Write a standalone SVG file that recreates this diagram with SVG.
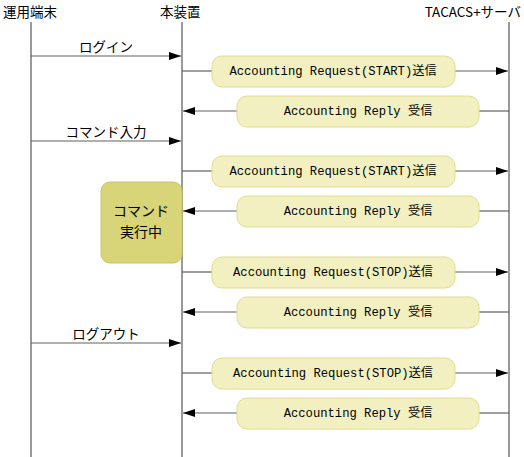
<svg xmlns="http://www.w3.org/2000/svg" width="524" height="457" viewBox="0 0 524 457">
<style>
.hdr{font-family:"Noto Sans CJK JP","Liberation Sans",sans-serif;font-size:13.5px;fill:#000}
.lbl{font-family:"Noto Sans CJK JP","Liberation Sans",sans-serif;font-size:13.5px;fill:#000;text-anchor:middle}
.cl{font-family:"Noto Sans CJK JP","Liberation Sans",sans-serif;font-size:14px;fill:#000;text-anchor:middle}
.msg{font-family:"Liberation Mono","Noto Sans CJK JP",monospace;font-size:12.2px;fill:#000;text-anchor:middle;dominant-baseline:central}
.life{stroke:#808080;stroke-width:1.6;fill:none}
.ln{stroke:#606060;stroke-width:1.2;fill:none}
.box{fill:#f2f0c0;stroke:#e0dc90;stroke-width:1}
.cmd{fill:#d8d478;stroke:#c8c460;stroke-width:1}
</style>
<defs>
<marker id="ah" markerWidth="12" markerHeight="8" refX="12" refY="4" orient="auto" markerUnits="userSpaceOnUse">
<path d="M0,0 L12,4 L0,8 Z" fill="#000"/>
</marker>
</defs>
<g id="headers">
<text class="hdr" x="3" y="17">運用端末</text>
<text class="hdr" x="160" y="17">本装置</text>
<text class="hdr" x="521" y="17" text-anchor="end">TACACS+サーバ</text>
</g>
<g id="lifelines">
<line class="life" x1="31" y1="22" x2="31" y2="457"/>
<line class="life" x1="182" y1="22" x2="182" y2="457"/>
<line class="life" x1="509" y1="22" x2="509" y2="457"/>
</g>
<g id="connectors">
<line class="ln" x1="31" y1="56" x2="181" y2="56" marker-end="url(#ah)"/>
<line class="ln" x1="31" y1="141" x2="181" y2="141" marker-end="url(#ah)"/>
<line class="ln" x1="31" y1="343" x2="181" y2="343" marker-end="url(#ah)"/>
<line class="ln" x1="182" y1="71" x2="212" y2="71"/>
<line class="ln" x1="455" y1="71" x2="508" y2="71" marker-end="url(#ah)"/>
<line class="ln" x1="509" y1="111" x2="479" y2="111"/>
<line class="ln" x1="237" y1="111" x2="183" y2="111" marker-end="url(#ah)"/>
<line class="ln" x1="182" y1="171" x2="212" y2="171"/>
<line class="ln" x1="455" y1="171" x2="508" y2="171" marker-end="url(#ah)"/>
<line class="ln" x1="509" y1="211" x2="479" y2="211"/>
<line class="ln" x1="237" y1="211" x2="183" y2="211" marker-end="url(#ah)"/>
<line class="ln" x1="182" y1="272" x2="212" y2="272"/>
<line class="ln" x1="455" y1="272" x2="508" y2="272" marker-end="url(#ah)"/>
<line class="ln" x1="509" y1="312" x2="479" y2="312"/>
<line class="ln" x1="237" y1="312" x2="183" y2="312" marker-end="url(#ah)"/>
<line class="ln" x1="182" y1="373" x2="212" y2="373"/>
<line class="ln" x1="455" y1="373" x2="508" y2="373" marker-end="url(#ah)"/>
<line class="ln" x1="509" y1="413" x2="479" y2="413"/>
<line class="ln" x1="237" y1="413" x2="183" y2="413" marker-end="url(#ah)"/>
</g>
<g id="labels">
<text class="lbl" x="106" y="52">ログイン</text>
<text class="lbl" x="106" y="137">コマンド入力</text>
<text class="lbl" x="106" y="339">ログアウト</text>
</g>
<g id="cmd">
<rect class="cmd" x="101" y="182" width="81" height="81" rx="9"/>
<text class="cl" x="141" y="216">コマンド</text>
<text class="cl" x="141" y="237">実行中</text>
</g>
<g id="req1"><rect class="box" x="212" y="56" width="243" height="31" rx="10"/><text class="msg" x="333" y="71.5">Accounting Request(START)送信</text></g>
<g id="rep1"><rect class="box" x="237" y="96" width="242" height="31" rx="10"/><text class="msg" x="358" y="111.5">Accounting Reply 受信</text></g>
<g id="req2"><rect class="box" x="212" y="156" width="243" height="31" rx="10"/><text class="msg" x="333" y="171.5">Accounting Request(START)送信</text></g>
<g id="rep2"><rect class="box" x="237" y="196" width="242" height="31" rx="10"/><text class="msg" x="358" y="211.5">Accounting Reply 受信</text></g>
<g id="req3"><rect class="box" x="212" y="257" width="243" height="31" rx="10"/><text class="msg" x="333" y="272.5">Accounting Request(STOP)送信</text></g>
<g id="rep3"><rect class="box" x="237" y="297" width="242" height="31" rx="10"/><text class="msg" x="358" y="312.5">Accounting Reply 受信</text></g>
<g id="req4"><rect class="box" x="212" y="358" width="243" height="31" rx="10"/><text class="msg" x="333" y="373.5">Accounting Request(STOP)送信</text></g>
<g id="rep4"><rect class="box" x="237" y="398" width="242" height="31" rx="10"/><text class="msg" x="358" y="413.5">Accounting Reply 受信</text></g>
</svg>
